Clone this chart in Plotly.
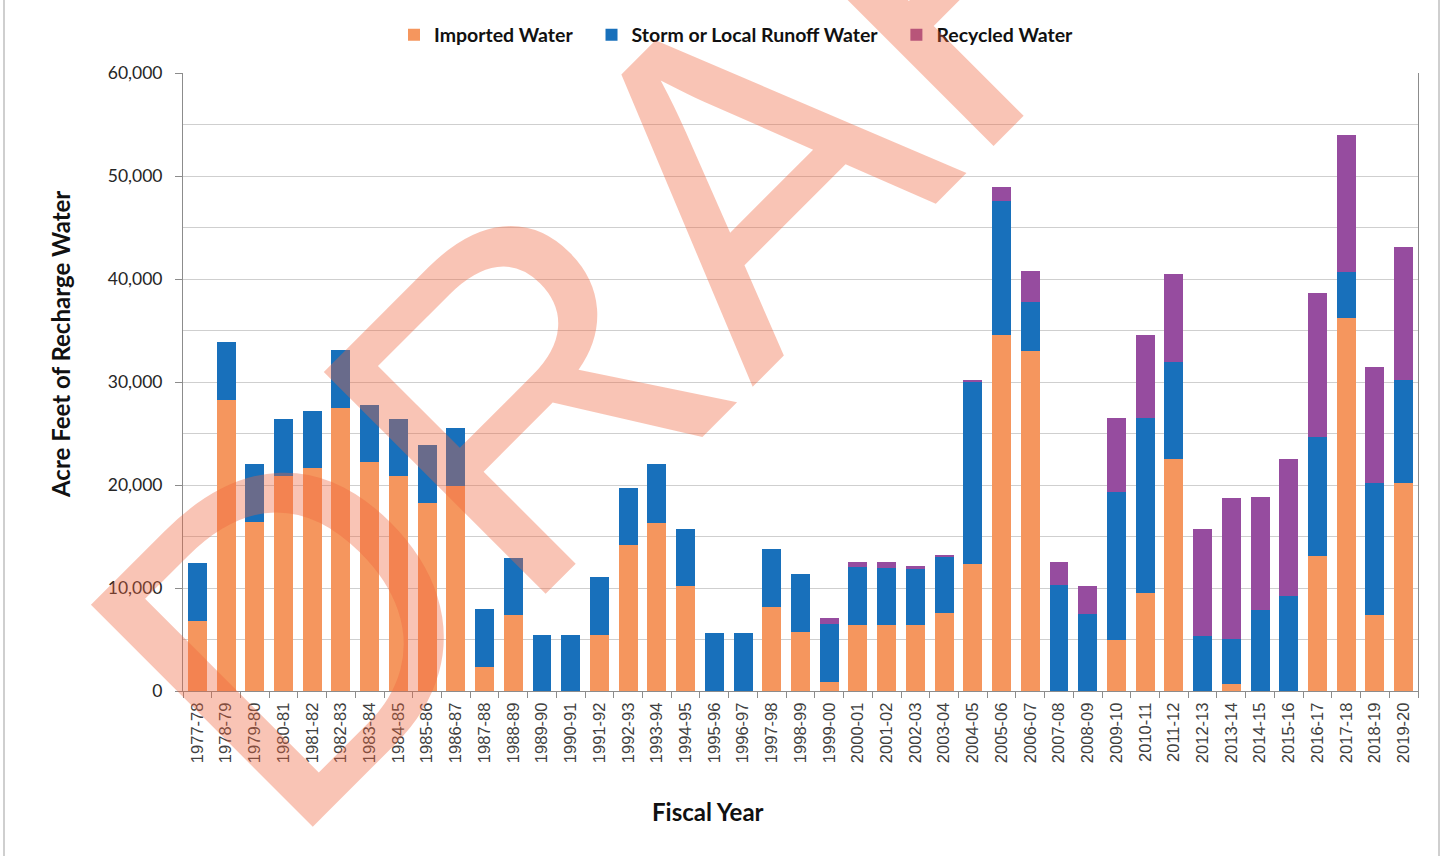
import plotly.graph_objects as go

fiscal_years = [
    "1977-78", "1978-79", "1979-80", "1980-81", "1981-82", "1982-83", "1983-84", "1984-85",
    "1985-86", "1986-87", "1987-88", "1988-89", "1989-90", "1990-91", "1991-92", "1992-93",
    "1993-94", "1994-95", "1995-96", "1996-97", "1997-98", "1998-99", "1999-00", "2000-01",
    "2001-02", "2002-03", "2003-04", "2004-05", "2005-06", "2006-07", "2007-08", "2008-09",
    "2009-10", "2010-11", "2011-12", "2012-13", "2013-14", "2014-15", "2015-16", "2016-17",
    "2017-18", "2018-19", "2019-20",
]

imported_water = [
    6800, 28300, 16400, 20850, 21650, 27500, 22200, 20850, 18300, 19900,
    2350, 7350, 0, 0, 5450, 14200, 16350, 10200, 0, 0,
    8200, 5700, 900, 6400, 6400, 6400, 7550, 12350, 34600, 33000,
    0, 0, 5000, 9500, 22500, 0, 700, 0, 0, 13100,
    36250, 7350, 20150,
]

storm_runoff_water = [
    5650, 5600, 5600, 5550, 5500, 5600, 5600, 5550, 5600, 5600,
    5650, 5600, 5450, 5450, 5600, 5500, 5650, 5550, 5600, 5600,
    5600, 5650, 5650, 5600, 5500, 5450, 5500, 17700, 12950, 4800,
    10250, 7500, 14350, 17050, 9400, 5300, 4350, 7900, 9250, 11550,
    4450, 12850, 10000,
]

recycled_water = [
    0, 0, 0, 0, 0, 0, 0, 0, 0, 0,
    0, 0, 0, 0, 0, 0, 0, 0, 0, 0,
    0, 0, 550, 500, 600, 300, 150, 150, 1400, 2950,
    2300, 2650, 7150, 8050, 8600, 10400, 13650, 10900, 13250, 14000,
    13300, 11250, 13000,
]

y_tick_values = [0, 10000, 20000, 30000, 40000, 50000, 60000]

series_names = ["Imported Water", "Storm or Local Runoff Water", "Recycled Water"]

ORANGE = "#F5965E"
BLUE = "#1870BB"
PURPLE = "#964C9F"

PAD = "\u00a0\u00a0\u00a0"  # invisible spacing between legend entries

fig = go.Figure()
fig.add_trace(go.Bar(x=fiscal_years, y=imported_water, name=series_names[0] + PAD,
                     marker=dict(color=ORANGE, line=dict(width=0))))
fig.add_trace(go.Bar(x=fiscal_years, y=storm_runoff_water, name=series_names[1] + PAD,
                     marker=dict(color=BLUE, line=dict(width=0))))
fig.add_trace(go.Bar(x=fiscal_years, y=recycled_water, name=series_names[2],
                     marker=dict(color=PURPLE, line=dict(width=0))))

W, H = 1445, 856
L, R, T, B = 183, 27, 73, 165
pw, ph = W - L - R, H - T - B

def px_x(p):
    return (p - L) / pw

def px_y(p):
    return (H - B - p) / ph

fig.update_layout(
    width=W, height=H,
    barmode="stack",
    bargap=0.34,
    plot_bgcolor="white",
    paper_bgcolor="white",
    margin=dict(l=L, r=R, t=T, b=B, autoexpand=False),
    font=dict(family="Lato, 'Open Sans', sans-serif", color="#262626"),
    legend=dict(
        orientation="h",
        x=px_x(394), xanchor="left",
        y=px_y(35), yanchor="middle",
        font=dict(family="Lato", size=19.5, color="#111111", weight="bold"),
        itemclick=False,
        traceorder="normal",
        bgcolor="rgba(0,0,0,0)",
    ),
    xaxis=dict(
        type="category",
        tickangle=-90,
        tickfont=dict(family="'Liberation Sans', Arial", size=16.5, color="#404040"),
        ticklabelstandoff=4,
        showline=True, linecolor="#8c8c8c", linewidth=1,
        ticks="outside", ticklen=6, tickcolor="#8c8c8c", tickson="boundaries",
        showgrid=False,
        automargin=False,
    ),
    yaxis=dict(
        range=[0, 60000],
        tickvals=y_tick_values,
        tickformat=",d",
        tickfont=dict(family="Lato", size=17.5, color="#262626"),
        ticklabelstandoff=9,
        showline=True, linecolor="#8c8c8c", linewidth=1, mirror=True,
        ticks="outside", ticklen=7, tickcolor="#8c8c8c",
        showgrid=True, gridcolor="#cfcfcf", gridwidth=1,
        minor=dict(dtick=5000, showgrid=True, gridcolor="#cfcfcf", gridwidth=1, ticks=""),
        zeroline=False,
        automargin=False,
    ),
)

# axis titles (placed where the reference shows them)
fig.add_annotation(text="Acre Feet of Recharge Water", xref="paper", yref="paper",
                   x=px_x(60), y=px_y(345), xanchor="center", yanchor="middle",
                   textangle=-90, showarrow=False,
                   font=dict(family="Lato", size=24, color="#111111", weight="bold"))
fig.add_annotation(text="Fiscal Year", xref="paper", yref="paper",
                   x=px_x(708), y=px_y(811), xanchor="center", yanchor="middle",
                   showarrow=False,
                   font=dict(family="Lato", size=24, color="#111111", weight="bold"))

# outer chart frame (left and right edges visible)
for xp in (4, 1439):
    fig.add_shape(type="line", xref="paper", yref="paper",
                  x0=px_x(xp), x1=px_x(xp), y0=px_y(H + 5), y1=px_y(-5),
                  line=dict(color="#bfbfbf", width=1.5), layer="above")

# DRAFT watermark
fig.add_annotation(
    text="DRAFT", xref="paper", yref="paper",
    x=px_x(712), y=px_y(204), xanchor="center", yanchor="middle",
    showarrow=False, textangle=-45,
    font=dict(family="'Liberation Sans', Arial", size=456, color="rgba(240,100,60,0.38)"),
)

fig.write_html("out.html", config={"displayModeBar": False},
               post_script="document.body.style.margin='0px';")
